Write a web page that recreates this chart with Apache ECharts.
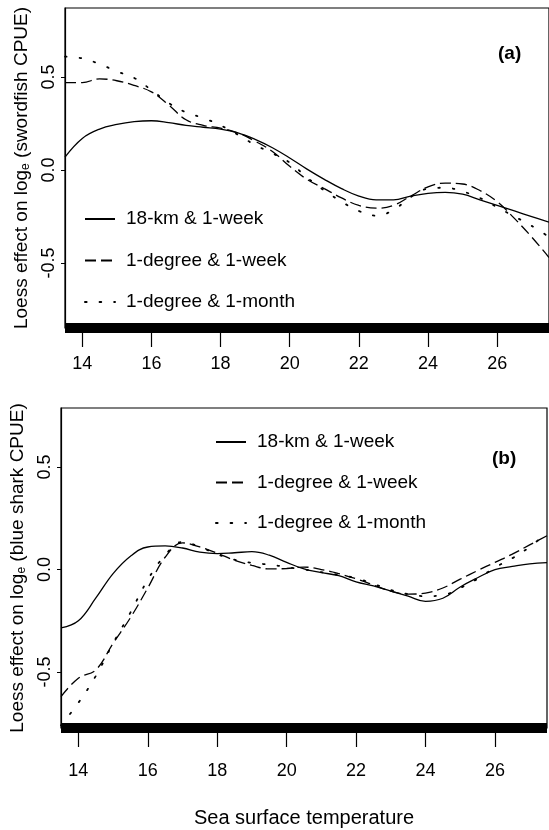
<!DOCTYPE html>
<html><head><meta charset="utf-8">
<script src="https://cdn.jsdelivr.net/npm/echarts@6/dist/echarts.min.js"></script>
<style>html,body{margin:0;padding:0;background:#fff}#c{width:549px;height:830px}</style>
</head><body><div id="c"></div>
<script>
// Sea surface temperature (x)
const sst = [13.5,14,14.5,15,15.5,16,16.5,17,17.5,18,18.5,19,19.5,20,20.5,21,21.5,22,22.5,23,23.5,24,24.5,25,25.5,26,26.5,27,27.5];
// (a) swordfish
const sword18kmWeek = [0.07,0.17,0.22,0.245,0.26,0.265,0.255,0.24,0.23,0.22,0.20,0.165,0.12,0.065,0.005,-0.05,-0.10,-0.14,-0.16,-0.16,-0.14,-0.125,-0.12,-0.13,-0.16,-0.19,-0.22,-0.25,-0.28];
const swordDegWeek  = [0.47,0.47,0.49,0.48,0.455,0.42,0.35,0.27,0.24,0.225,0.20,0.155,0.10,0.02,-0.05,-0.10,-0.15,-0.19,-0.205,-0.19,-0.14,-0.09,-0.07,-0.075,-0.11,-0.17,-0.26,-0.36,-0.47];
const swordDegMonth = [0.61,0.60,0.57,0.53,0.495,0.43,0.36,0.31,0.28,0.24,0.19,0.135,0.09,0.04,-0.04,-0.11,-0.17,-0.22,-0.245,-0.215,-0.145,-0.10,-0.095,-0.115,-0.15,-0.20,-0.25,-0.30,-0.36];
// (b) blue shark
const shark18kmWeek = [-0.285,-0.25,-0.14,-0.02,0.065,0.11,0.115,0.105,0.085,0.078,0.082,0.087,0.07,0.035,0.003,-0.015,-0.03,-0.06,-0.08,-0.105,-0.13,-0.155,-0.14,-0.085,-0.04,0.0,0.015,0.028,0.034];
const sharkDegWeek  = [-0.62,-0.53,-0.49,-0.36,-0.235,-0.09,0.06,0.13,0.11,0.08,0.045,0.02,0.003,0.005,0.012,0.0,-0.02,-0.045,-0.075,-0.105,-0.12,-0.115,-0.09,-0.047,-0.005,0.035,0.075,0.12,0.165];
const sharkDegMonth = [-0.76,-0.65,-0.52,-0.36,-0.21,-0.05,0.07,0.135,0.11,0.075,0.048,0.032,0.024,0.012,0.0,-0.013,-0.026,-0.042,-0.07,-0.10,-0.12,-0.13,-0.125,-0.09,-0.045,0.01,0.055,0.11,0.18];

const seriesNames = ['18-km & 1-week','1-degree & 1-week','1-degree & 1-month'];
const xTicks = [14,16,18,20,22,24,26];
const yTicks = [-0.5,0,0.5];
const panelLabels = ['(a)','(b)'];
const yNames = ['Loess effect on log{sub|e} (swordfish CPUE)','Loess effect on log{sub|e} (blue shark CPUE)'];
const xName = 'Sea surface temperature';

const FONT = '"Liberation Sans", Arial, Helvetica, sans-serif';
const pair = arr => sst.map((x,i)=>[x,arr[i]]);
const styles = [
  {type:'solid', width:1.3},
  {type:[11,5], width:1.3},
  {type:[1.6,13], width:1.8, cap:'round'}
];
function mk(name, arr, idx, k){
  return {type:'line', name:name, xAxisIndex:idx, yAxisIndex:idx, data:pair(arr),
    smooth:0.4, symbol:'none', silent:true,
    itemStyle:{color:'#000'},
    lineStyle:Object.assign({color:'#000'}, styles[k])};
}
function xAx(idx, withName, margin){
  return {type:'value', gridIndex:idx, min:13.5, max:27.5,
    axisLine:{show:true, onZero:false, lineStyle:{color:'#000', width:10, cap:'butt'}},
    axisTick:{show:true, customValues:xTicks, length:19, lineStyle:{color:'#000', width:1.2}},
    axisLabel:{customValues:xTicks, color:'#000', fontSize:18, fontFamily:FONT, margin:margin},
    splitLine:{show:false},
    name: withName ? xName : '', nameLocation:'middle', nameGap:80,
    nameTextStyle:{color:'#000', fontSize:20, fontFamily:FONT}};
}
function yAx(idx, min, max){
  return {type:'value', gridIndex:idx, min:min, max:max,
    axisLine:{show:true, lineStyle:{color:'#000', width:1.2}},
    axisTick:{show:true, customValues:yTicks, length:4, lineStyle:{color:'#000'}},
    axisLabel:{customValues:yTicks, rotate:90, color:'#000', fontSize:18, fontFamily:FONT, margin:7,
      formatter:v=>v.toFixed(1)},
    splitLine:{show:false},
    name:yNames[idx], nameLocation:'middle', nameRotate:90, nameGap:24,
    nameTextStyle:{color:'#000', fontSize:19, fontFamily:FONT,
      rich:{sub:{fontSize:12, fontFamily:FONT, color:'#000', padding:[8,0,0,0]}}}};
}
const legendBase = {orient:'vertical', itemWidth:30, itemHeight:14, selectedMode:false,
  data:seriesNames, itemStyle:{opacity:0},
  textStyle:{color:'#000', fontSize:19, fontFamily:FONT, lineHeight:22, padding:[0,0,0,6]}};
const option = {
  animation:false,
  backgroundColor:'#fff',
  textStyle:{fontFamily:FONT},
  grid:[
    {left:65, top:8, width:485, height:320, show:true, borderColor:'#000', borderWidth:1.2},
    {left:61, top:408, width:486, height:320, show:true, borderColor:'#000', borderWidth:1.2}
  ],
  xAxis:[xAx(0,false,27), xAx(1,true,34)],
  yAxis:[yAx(0,-0.849,0.871), yAx(1,-0.773,0.788)],
  legend:[
    Object.assign({left:79, top:203, itemGap:19.5}, legendBase),
    Object.assign({left:210, top:426, itemGap:18.5}, legendBase)
  ],
  graphic:[
    {type:'text', left:498, top:44, style:{text:panelLabels[0], font:'bold 19px '+FONT, fill:'#000'}},
    {type:'text', left:492, top:449, style:{text:panelLabels[1], font:'bold 19px '+FONT, fill:'#000'}}
  ],
  series:[
    mk(seriesNames[0], sword18kmWeek, 0, 0),
    mk(seriesNames[1], swordDegWeek, 0, 1),
    mk(seriesNames[2], swordDegMonth, 0, 2),
    mk(seriesNames[0], shark18kmWeek, 1, 0),
    mk(seriesNames[1], sharkDegWeek, 1, 1),
    mk(seriesNames[2], sharkDegMonth, 1, 2)
  ]
};
const chart = echarts.init(document.getElementById('c'), null, {renderer:'canvas'});
chart.setOption(option);
</script>
</body></html>
